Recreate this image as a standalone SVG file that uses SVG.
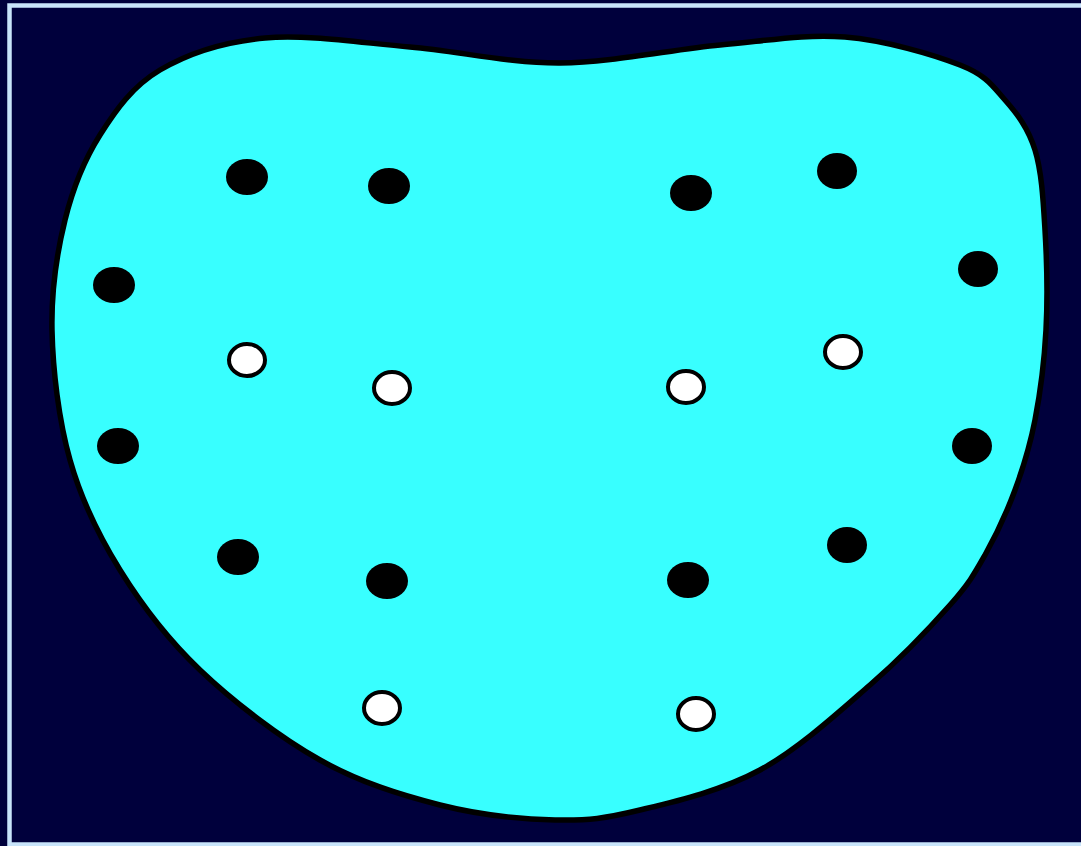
<svg xmlns="http://www.w3.org/2000/svg" width="1081" height="846" viewBox="0 0 1081 846">
<style>
.bg{fill:#00003c}
.frame{fill:none;stroke:#c8e4fa;stroke-width:4.5}
.body{fill:#38ffff;stroke:#000;stroke-width:5.5}
.dark{fill:#000}
.light{fill:#fff;stroke:#000;stroke-width:4}
</style>
<rect class="bg" x="0" y="0" width="1081" height="846"/>
<rect class="frame" x="9.5" y="5.5" width="1080" height="839"/>
<g id="body">
<path class="body" d="M265,38 C306.7,34.2 360.8,42.8 410,47 C459.2,51.2 508.3,63.3 560,63 C611.7,62.7 672.5,49.3 720,45 C767.5,40.7 805,33.7 845,37 C885,40.3 933.3,54.5 960,65 C986.7,75.5 992.5,85.8 1005,100 C1017.5,114.2 1028.3,128.3 1035,150 C1041.7,171.7 1043.2,200 1045,230 C1046.8,260 1047.7,298.3 1046,330 C1044.3,361.7 1040.2,393.3 1035,420 C1029.8,446.7 1023.3,467.5 1015,490 C1006.7,512.5 995.8,535.8 985,555 C974.2,574.2 969.2,583.3 950,605 C930.8,626.7 901.7,657.5 870,685 C838.3,712.5 798.3,749.2 760,770 C721.7,790.8 674.2,801.7 640,810 C605.8,818.3 588.3,820.8 555,820 C521.7,819.2 479.2,815 440,805 C400.8,795 360,782.5 320,760 C280,737.5 233.3,701.7 200,670 C166.7,638.3 141.7,605 120,570 C98.3,535 81.3,500 70,460 C58.7,420 52.8,370 52,330 C51.2,290 57,252.5 65,220 C73,187.5 84.2,160 100,135 C115.8,110 132.5,86.2 160,70 C187.5,53.8 223.3,41.8 265,38 Z"/>
</g>
<g id="dark-dots">
<ellipse class="dark" cx="247" cy="177" rx="21" ry="18"/>
<ellipse class="dark" cx="389" cy="186" rx="21" ry="18"/>
<ellipse class="dark" cx="691" cy="193" rx="21" ry="18"/>
<ellipse class="dark" cx="837" cy="171" rx="20" ry="18"/>
<ellipse class="dark" cx="114" cy="285" rx="21" ry="18"/>
<ellipse class="dark" cx="978" cy="269" rx="20" ry="18"/>
<ellipse class="dark" cx="118" cy="446" rx="21" ry="18"/>
<ellipse class="dark" cx="972" cy="446" rx="20" ry="18"/>
<ellipse class="dark" cx="238" cy="557" rx="21" ry="18"/>
<ellipse class="dark" cx="387" cy="581" rx="21" ry="18"/>
<ellipse class="dark" cx="688" cy="580" rx="21" ry="18"/>
<ellipse class="dark" cx="847" cy="545" rx="20" ry="18"/>
</g>
<g id="light-dots">
<ellipse class="light" cx="247" cy="360" rx="18" ry="16"/>
<ellipse class="light" cx="392" cy="388" rx="18" ry="16"/>
<ellipse class="light" cx="686" cy="387" rx="18" ry="16"/>
<ellipse class="light" cx="843" cy="352" rx="18" ry="16"/>
<ellipse class="light" cx="382" cy="708" rx="18" ry="16"/>
<ellipse class="light" cx="696" cy="714" rx="18" ry="16"/>
</g>
</svg>
